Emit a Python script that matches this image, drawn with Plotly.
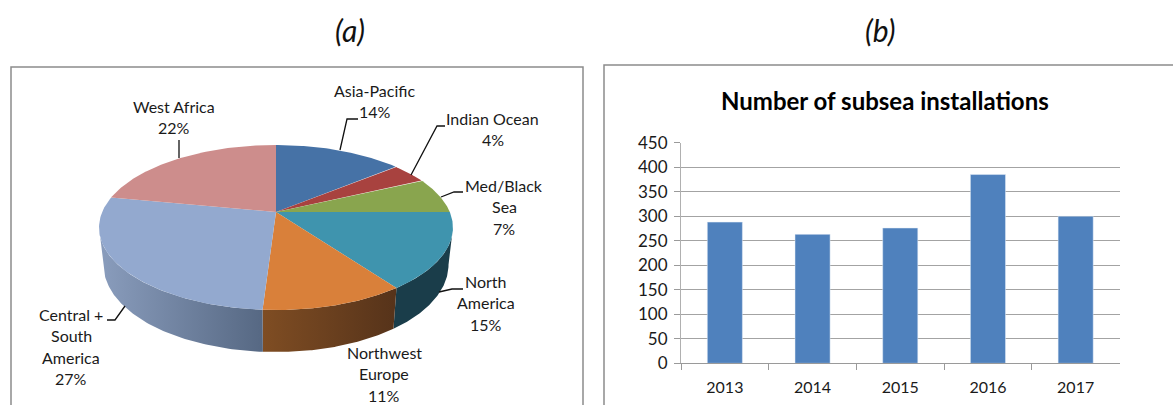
import numpy as np
import plotly.graph_objects as go

# ---- data ----
regions = ["Asia-Pacific", "Indian Ocean", "Med/Black Sea", "North America",
           "Northwest Europe", "Central + South America", "West Africa"]
shares = [14, 4, 7, 15, 11, 27, 22]
label_lines = [["Asia-Pacific", "14%"], ["Indian Ocean", "4%"], ["Med/Black", "Sea", "7%"],
               ["North", "America", "15%"], ["Northwest", "Europe", "11%"],
               ["Central +", "South", "America", "27%"], ["West Africa", "22%"]]
years = ["2013", "2014", "2015", "2016", "2017"]
installations = [288, 263, 276, 385, 300]
y_ticks = [0, 50, 100, 150, 200, 250, 300, 350, 400, 450]

# ---- styles ----
slice_colors = ["#4672a6", "#a8423f", "#89a54e", "#3f94ae", "#d9803a", "#93a9cf", "#cd8d8c"]
wall_scales = {3: ["#1a3d4a", "#1a3d4a"], 4: ["#7f4d23", "#56331a"], 5: ["#8a9dbd", "#566883"]}
FONT = "Lato"
TXT = "#1a1a1a"

# pie projection, in figure pixels
CX, CY, A, B, P = 276.0, 212.0, 173.8, 79.6, 0.188
SHRINK, D0, D1 = 0.975, 36.0, 6.0


def top_xy(theta_deg):
    t = np.radians(theta_deg)
    u, v = np.sin(t), -np.cos(t)
    w = 1 - P * v
    return CX + A * u / w, CY + B * v / w


def bottom_xy(theta_deg):
    t = np.radians(theta_deg)
    x, y = top_xy(theta_deg)
    return CX + (x - CX) * SHRINK, y + D0 + D1 * (-np.cos(t))


fig = go.Figure()
edges = np.concatenate([[0], np.cumsum(shares)]) * 3.6
right_t = np.degrees(np.arccos(-P))
left_t = 360 - right_t

# side walls
for i, cs in wall_scales.items():
    t0 = max(edges[i], right_t)
    t1 = min(edges[i + 1], left_t)
    th = np.linspace(t0, t1, 80)
    xt, yt = top_xy(th)
    xb, yb = bottom_xy(th[::-1])
    fig.add_trace(go.Scatter(
        x=np.concatenate([xt, xb]), y=np.concatenate([yt, yb]), mode="lines",
        line=dict(width=0), fill="toself", hoverinfo="skip", showlegend=False,
        fillgradient=dict(type="horizontal", colorscale=[[0, cs[0]], [1, cs[1]]]),
    ))

# top slices
for i, name in enumerate(regions):
    th = np.linspace(edges[i], edges[i + 1], 80)
    xt, yt = top_xy(th)
    fig.add_trace(go.Scatter(
        x=np.concatenate([[CX], xt, [CX]]), y=np.concatenate([[CY], yt, [CY]]),
        mode="lines", line=dict(width=0), fill="toself", fillcolor=slice_colors[i],
        name=f"{name} {shares[i]}%", hoverinfo="name", showlegend=False,
    ))

# leader lines
leaders = [[(340, 150), (347, 119), (358, 119)],
           [(411, 175), (437, 126), (445, 126)],
           [(441, 197), (454, 192), (463, 192)],
           [(439, 292), (452, 289), (463, 289)],
           [(125, 306), (115, 320), (107, 320)],
           [(179, 158), (179, 140)]]
for pts in leaders:
    fig.add_trace(go.Scatter(x=[p[0] for p in pts], y=[p[1] for p in pts], mode="lines",
                             line=dict(color="#111111", width=1.3), hoverinfo="skip", showlegend=False))

# pie labels
anchors = [(374.5, 90), (492.5, 118), (504, 185), (486, 281), (384, 352), (71, 314), (174, 106)]
LINE_H = 21.6
annotations = []
for lines, (ax_, ay_) in zip(label_lines, anchors):
    for k, s in enumerate(lines):
        annotations.append(dict(x=ax_, y=ay_ + k * LINE_H, xref="x", yref="y", text=s, showarrow=False,
                                xanchor="center", yanchor="middle",
                                font=dict(family=FONT, size=16, color=TXT)))

# bars
fig.add_trace(go.Bar(x=years, y=installations, xaxis="x2", yaxis="y2", marker=dict(color="#4f81bd"),
                     width=0.4, showlegend=False))

# headings
for txt, x in [("(a)", 349.5), ("(b)", 880)]:
    annotations.append(dict(x=x / 1173, y=1 - 30 / 405, xref="paper", yref="paper", text=f"<i>{txt}</i>",
                            showarrow=False, font=dict(family=FONT, size=30, color="#111111"),
                            xanchor="center", yanchor="middle"))
annotations.append(dict(x=885 / 1173, y=1 - 100 / 405, xref="paper", yref="paper",
                        text="<b>Number of subsea installations</b>", showarrow=False,
                        font=dict(family=FONT, size=24, color="#000000"),
                        xanchor="center", yanchor="middle"))

# panels
shapes = [
    dict(type="rect", xref="x", yref="y", x0=11, x1=583, y0=67, y1=420, line=dict(color="#8c8c8c", width=1.5),
         layer="below"),
    dict(type="rect", xref="x", yref="y", x0=604, x1=1190, y0=65, y1=420, line=dict(color="#8c8c8c", width=1.5),
         layer="below"),
]

fig.update_layout(
    width=1173, height=405, margin=dict(l=0, r=0, t=0, b=0, autoexpand=False),
    paper_bgcolor="white", plot_bgcolor="rgba(0,0,0,0)", showlegend=False,
    annotations=annotations, shapes=shapes,
    xaxis=dict(range=[0, 1173], domain=[0, 1], visible=False, fixedrange=True),
    yaxis=dict(range=[405, 0], domain=[0, 1], visible=False, fixedrange=True),
    xaxis2=dict(domain=[681 / 1173, 1119.5 / 1173], anchor="y2", type="category",
                showgrid=False, showline=True, linecolor="#9a9a9a", linewidth=1,
                ticks="outside", ticklen=6, tickcolor="#9a9a9a", tickson="boundaries",
                tickfont=dict(family=FONT, size=16, color=TXT), zeroline=False, ticklabelstandoff=9),
    yaxis2=dict(domain=[1 - 363.3 / 405, 1 - 142.7 / 405], anchor="x2", range=[0, 450],
                tickvals=y_ticks, showgrid=True, gridcolor="#a3a3a3", gridwidth=1,
                showline=True, linecolor="#b0b0b0", linewidth=1, zeroline=False,
                ticks="outside", ticklen=6, tickcolor="#9a9a9a", ticklabelstandoff=3,
                tickfont=dict(family=FONT, size=17, color=TXT)),
)
fig.write_html("out.html", config=dict(displayModeBar=False),
               post_script="document.body.style.margin='0';document.body.style.overflow='hidden';")
